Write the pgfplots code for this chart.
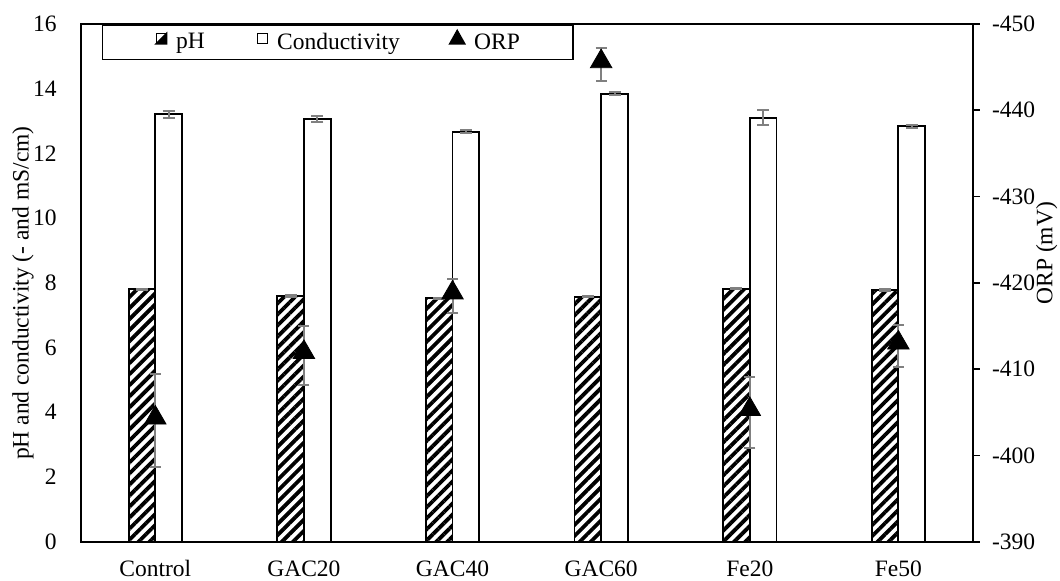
\documentclass[border=0pt]{standalone}
\usepackage{fontspec}
\setmainfont{Liberation Serif}
\usepackage{pgfplots}
\pgfplotsset{compat=1.18}
\usetikzlibrary{patterns.meta}
\definecolor{errgray}{RGB}{128,128,128}
\newcommand{\fs}{\fontsize{11.75pt}{14pt}\selectfont}
\begin{document}
\begin{tikzpicture}
\pgfplotsset{
  base/.style={
    scale only axis, width=445.85pt, height=258.85pt,
    at={(0,0)}, anchor=south west,
    xmin=-0.5, xmax=5.5,
    tick label style={font=\fs},
    label style={font=\fs},
    axis line style={line width=0.9pt},
  }
}
\begin{axis}[base,
  ymin=0, ymax=16,
  ybar=0pt, bar width=13.35pt,
  xtick={0,...,5}, xticklabels={Control,GAC20,GAC40,GAC60,Fe20,Fe50},
  ytick={0,2,...,16}, yticklabels={0,2,4,6,8,10,12,14,16},
  major tick style={draw=none},
  xticklabel style={inner sep=0pt, anchor=north, yshift=-5pt},
  yticklabel style={inner sep=0pt, anchor=east, xshift=-12pt},
  ylabel={pH and conductivity (- and mS/cm)},
  ylabel style={at={(axis description cs:-0.0527,0.48)}, anchor=south, inner sep=0pt},
  legend columns=3,
  legend style={at={(axis description cs:0.0232,1)}, anchor=north west, draw=black, line width=0.9pt, font=\fs,
    inner xsep=26.5pt, inner ysep=2.5pt, nodes={inner sep=0pt, text depth=0.25em}, cells={anchor=west},
    /tikz/every odd column/.style={column sep=4.4pt}, /tikz/column 2/.style={column sep=26pt}, /tikz/column 4/.style={column sep=24.6pt}},
]
\addplot[draw=black, line width=0.9pt, pattern={Lines[angle=45,distance=3.9pt,line width=1.9pt]},
  legend image code/.code={\draw[black, line width=0.7pt, fill=white] (0pt,0pt) rectangle (5pt,5pt); \fill[black] (0pt,0pt) -- (5pt,0pt) -- (5pt,5pt) -- cycle;},
  error bars/.cd, y dir=both, y explicit, error mark=|, error bar style={errgray, line width=1pt}, error mark options={errgray, mark size=3pt, line width=1pt}]
  coordinates {(0,7.80) +- (0,0.02) (1,7.59) +- (0,0.02) (2,7.52) +- (0,0.02) (3,7.57) +- (0,0.02) (4,7.82) +- (0,0.02) (5,7.78) +- (0,0.02)};
\addlegendentry{pH}
\addplot[draw=black, fill=white, line width=0.9pt,
  legend image code/.code={\draw[black, line width=0.7pt, fill=white] (0pt,0pt) rectangle (5pt,5pt);},
  error bars/.cd, y dir=both, y explicit, error mark=|, error bar style={errgray, line width=1pt}, error mark options={errgray, mark size=3pt, line width=1pt}]
  coordinates {(0,13.21) +- (0,0.11) (1,13.06) +- (0,0.09) (2,12.67) +- (0,0.04) (3,13.84) +- (0,0.05) (4,13.10) +- (0,0.23) (5,12.84) +- (0,0.04)};
\addlegendentry{Conductivity}
\addlegendimage{legend image code/.code={\fill[black] (0pt,0pt) -- (7.3pt,0pt) -- (3.65pt,6.5pt) -- cycle;}}
\addlegendentry{ORP}
\end{axis}
\begin{axis}[base,
  ymin=-450, ymax=-390, y dir=reverse,
  axis y line*=right, axis x line=none,
  ytick={-450,-440,...,-390}, yticklabels={-450,-440,-430,-420,-410,-400,-390},
  tick align=outside, major tick length=3.5pt, major tick style={line width=0.9pt, black},
  yticklabel style={inner sep=0pt, anchor=west, xshift=6pt},
  ylabel={ORP (mV)},
  ylabel style={at={(axis description cs:1.0705,0.557)}, anchor=north, inner sep=0pt},
]
\addplot[only marks, mark=triangle*, mark size=6.2pt, mark options={fill=black, draw=black, yshift=1.5pt},
  error bars/.cd, y dir=both, y explicit, error mark=|, error bar style={errgray, line width=1pt}, error mark options={errgray, mark size=2.75pt, line width=1pt}]
  coordinates {(0,-404.0) +- (0,5.4) (1,-411.6) +- (0,3.4) (2,-418.5) +- (0,2.0) (3,-445.3) +- (0,1.9) (4,-405.0) +- (0,4.1) (5,-412.7) +- (0,2.4)};
\end{axis}
\pgfresetboundingbox
\useasboundingbox (-40.5pt,-19.65pt) rectangle (489.5pt,270.85pt);
\end{tikzpicture}
\end{document}
